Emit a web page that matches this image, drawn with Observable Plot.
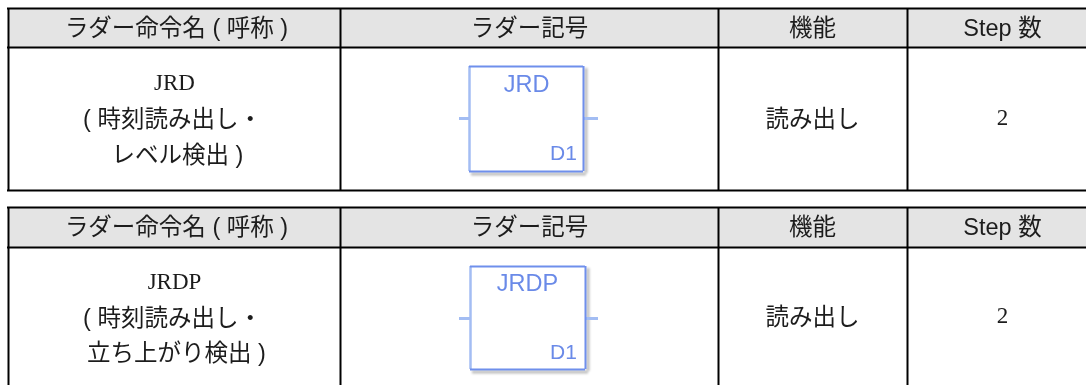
<!DOCTYPE html>
<html>
<head>
<meta charset="utf-8">
<script src="https://cdn.jsdelivr.net/npm/d3@7"></script>
<script src="https://cdn.jsdelivr.net/npm/@observablehq/plot@0.6"></script>
<style>html,body{margin:0;padding:0;background:#fff}svg{display:block}</style>
</head>
<body>
<div id="chart"></div>
<script>
const sans = '"Liberation Sans","Noto Sans CJK JP",sans-serif';
const serif = '"Liberation Serif","Noto Sans CJK JP",serif';

const headerLabels = ["ラダー命令名 ( 呼称 )", "ラダー記号", "機能", "Step 数"];
const headerCenters = [176, 529, 812, 1002];
const columnEdges = [8, 340, 718, 907];
const tableTops = [8, 207];
const headerBottoms = [47, 247];
const tableBottoms = [190, 400];
const rightEdge = 1090;

const nameRows = [
  {t: "JRD", x: 174, y: 82, f: serif},
  {t: "( 時刻読み出し・", x: 172, y: 119, f: sans},
  {t: "レベル検出 )", x: 177, y: 155, f: sans},
  {t: "JRDP", x: 174, y: 281, f: serif},
  {t: "( 時刻読み出し・", x: 172, y: 318, f: sans},
  {t: "立ち上がり検出 )", x: 176, y: 353, f: sans}
];
const funcRows = [{t: "読み出し", y: 119}, {t: "読み出し", y: 317}];
const stepRows = [{t: "2", y: 117}, {t: "2", y: 315}];

const boxes = [
  {name: "JRD", x1: 469, x2: 583, y1: 66, y2: 171, stub: 118, nameX: 526, nameY: 84, dX: 563, dY: 153},
  {name: "JRDP", x1: 470, x2: 585, y1: 266, y2: 369, stub: 318, nameX: 527, nameY: 283, dX: 563, dY: 352}
];
const stubLeft = 459, stubRight = 598;
const blue = "#6f8fec", lightBlue = "#a3bdf3", dark = "#000", ink = "#1c1c1c", soft = "blur(0.45px)";

const t = (data, opts) => Plot.text(data, {textAnchor: "middle", lineAnchor: "middle", fontSize: 23.5, fill: ink, fontFamily: sans, imageFilter: soft, ...opts});

const tables = tableTops.map((top, i) => ({top, hb: headerBottoms[i], bottom: tableBottoms[i]}));
const hRules = tables.flatMap(d => [d.top, d.hb, d.bottom]);
const vRules = tables.flatMap(d => columnEdges.map(x => ({x, y1: d.top, y2: d.bottom})));
const headers = tables.flatMap(d => headerLabels.map((s, j) => ({s, x: headerCenters[j], y: (d.top + d.hb) / 2})));

const chart = Plot.plot({
  width: 1086, height: 385,
  margin: 0,
  x: {domain: [0, 1086], range: [0, 1086], axis: null},
  y: {domain: [0, 385], range: [0, 385], axis: null},
  marks: [
    Plot.rect(tables, {x1: columnEdges[0], x2: rightEdge, y1: "top", y2: "hb", fill: "#e4e4e4"}),
    Plot.ruleX(vRules, {x: "x", y1: "y1", y2: "y2", stroke: dark, strokeWidth: 2}),
    Plot.ruleY(hRules, {x1: columnEdges[0] - 1, x2: rightEdge, y: d => d, stroke: dark, strokeWidth: 2}),
    t(headers, {x: "x", y: "y", text: "s"}),
    t(nameRows.filter(d => d.f === sans), {x: "x", y: "y", text: "t"}),
    t(nameRows.filter(d => d.f === serif), {x: "x", y: "y", text: "t", fontFamily: serif, fontSize: 23}),
    t(funcRows, {x: () => headerCenters[2], y: "y", text: "t"}),
    t(stepRows, {x: () => headerCenters[3], y: "y", text: "t", fontFamily: serif, fontSize: 23}),
    // ladder symbol shadows
    Plot.ruleX(boxes, {x: d => d.x2 + 2.5, y1: d => d.y1 + 2, y2: d => d.y2 + 2, stroke: "#bdbdbd", strokeWidth: 3, imageFilter: "blur(0.8px)"}),
    Plot.ruleY(boxes, {y: d => d.y2 + 2.5, x1: d => d.x1 + 2, x2: d => d.x2 + 3, stroke: "#bdbdbd", strokeWidth: 3, imageFilter: "blur(0.8px)"}),
    // ladder symbol stubs
    Plot.ruleY(boxes, {y: "stub", x1: stubLeft, x2: "x1", stroke: lightBlue, strokeWidth: 3, imageFilter: soft}),
    Plot.ruleY(boxes, {y: "stub", x1: "x2", x2: stubRight, stroke: lightBlue, strokeWidth: 3, imageFilter: soft}),
    // ladder symbol boxes
    Plot.ruleX(boxes, {x: "x1", y1: "y1", y2: "y2", stroke: lightBlue, strokeWidth: 2.5, imageFilter: soft}),
    Plot.ruleX(boxes, {x: "x2", y1: "y1", y2: "y2", stroke: blue, strokeWidth: 2, imageFilter: soft}),
    Plot.ruleY(boxes, {y: "y1", x1: "x1", x2: "x2", stroke: blue, strokeWidth: 2, imageFilter: soft}),
    Plot.ruleY(boxes, {y: "y2", x1: "x1", x2: "x2", stroke: blue, strokeWidth: 2, imageFilter: soft}),
    t(boxes, {x: "nameX", y: "nameY", text: "name", fill: "#6a8ae8", fontSize: 23.5}),
    t(boxes, {x: "dX", y: "dY", text: () => "D1", fill: "#6a8ae8", fontSize: 21})
  ]
});
document.getElementById("chart").append(chart);
</script>
</body>
</html>
